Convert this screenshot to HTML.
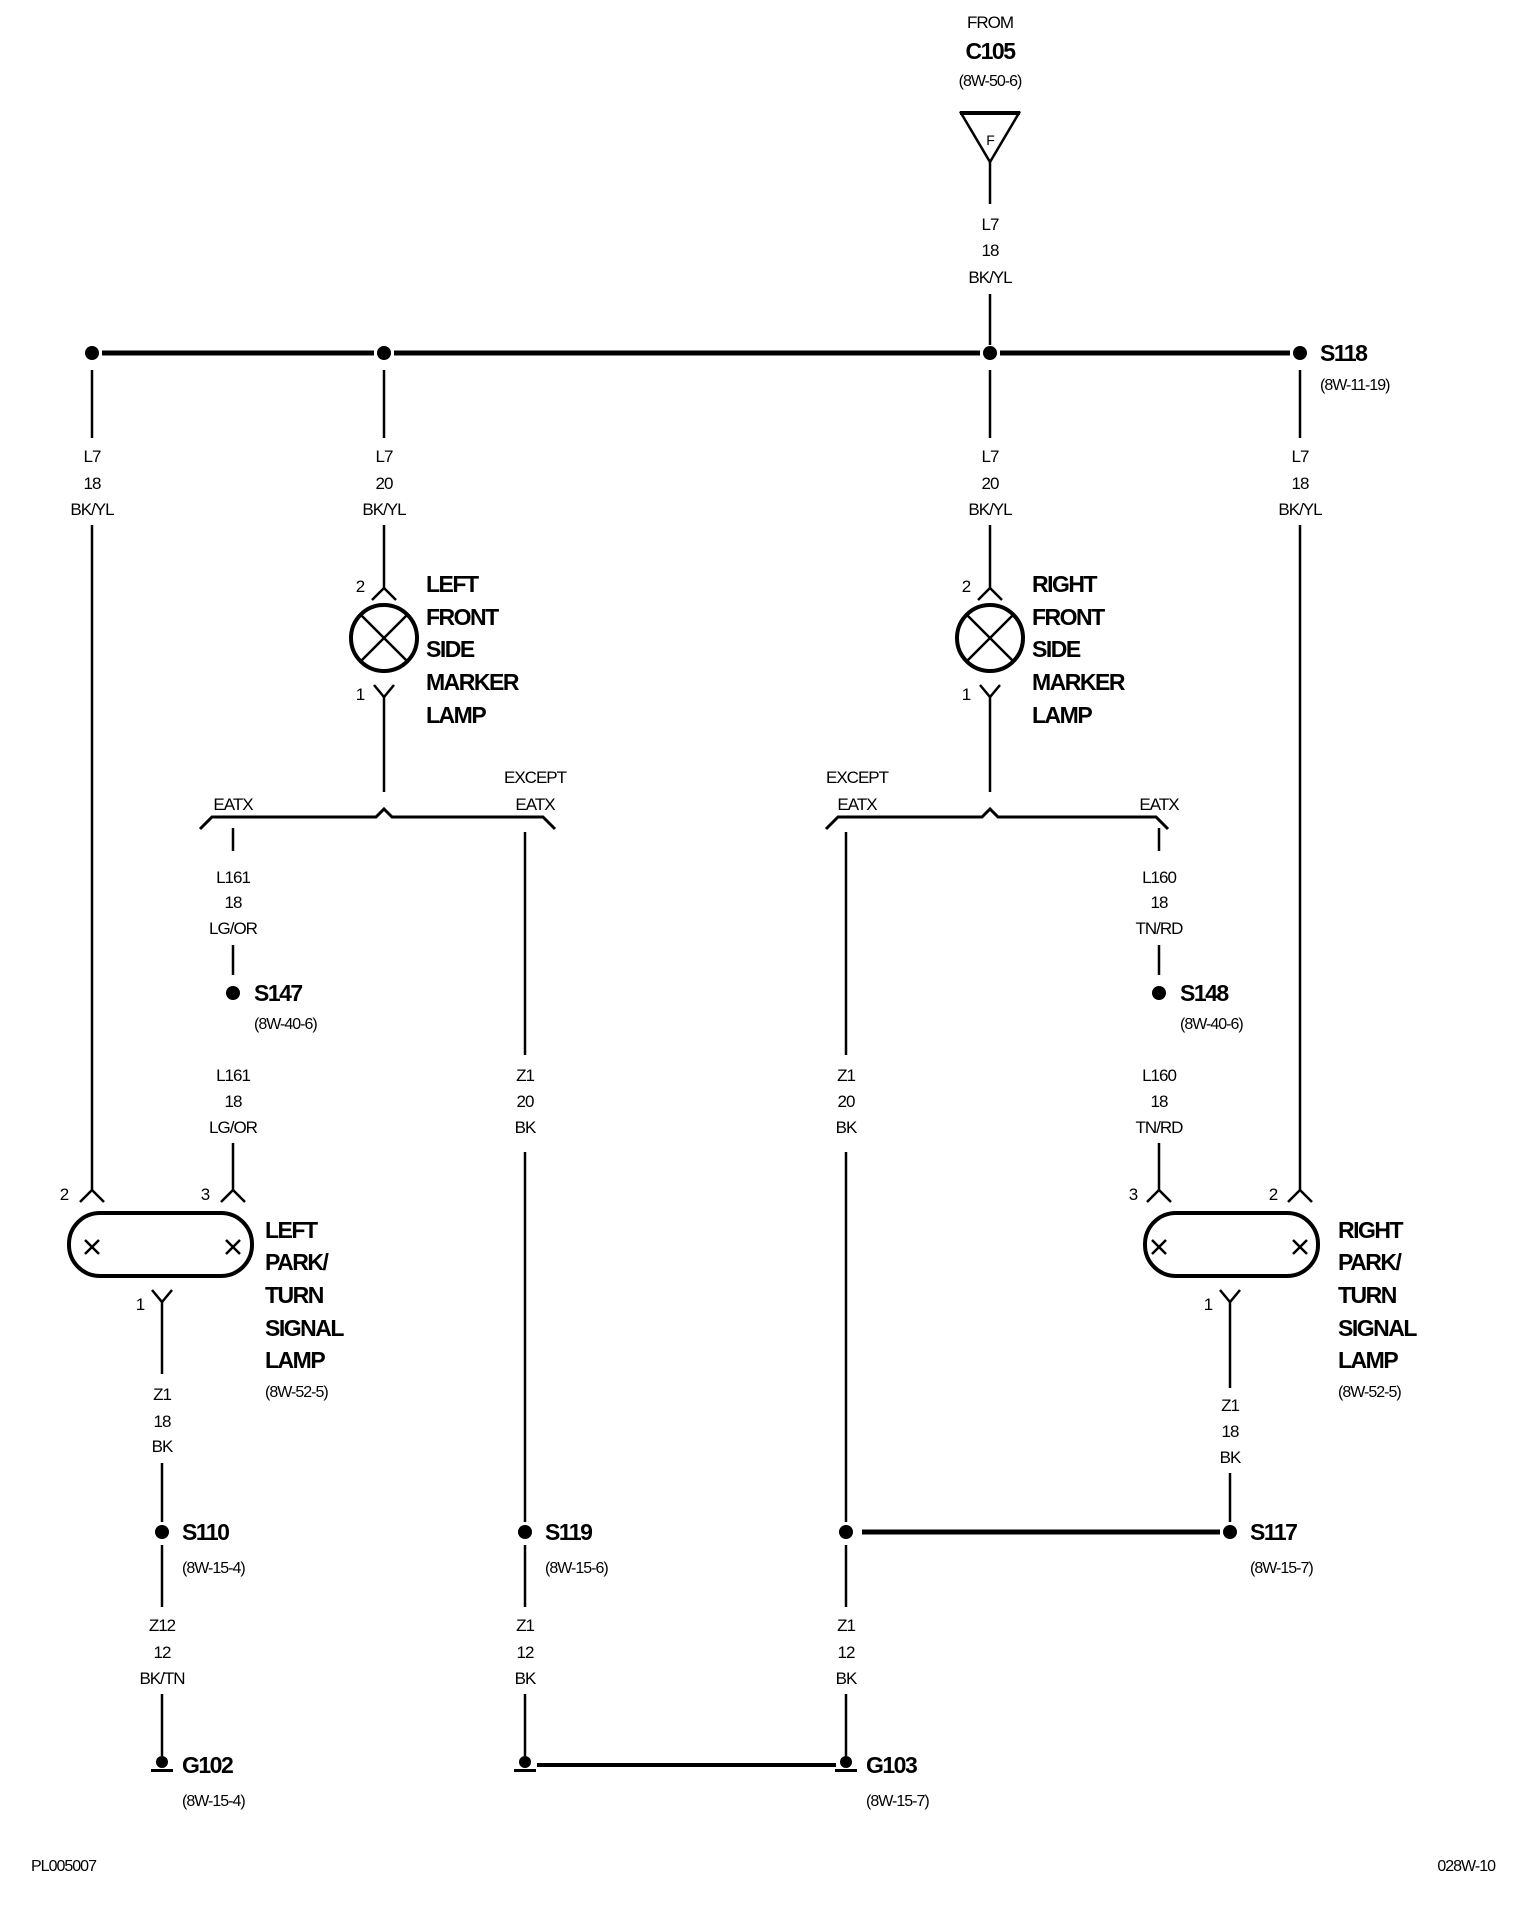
<!DOCTYPE html>
<html><head><meta charset="utf-8"><style>
html,body{margin:0;padding:0;background:#fff}
svg{display:block}
text{font-family:"Liberation Sans",sans-serif;fill:#000}
.w{font-size:17px;text-anchor:middle;letter-spacing:-1px}
.b{font-size:23px;font-weight:bold;letter-spacing:-1.5px}
.r{font-size:16px;letter-spacing:-1px}
</style></head><body>
<svg width="1520" height="1908" viewBox="0 0 1520 1908" xmlns="http://www.w3.org/2000/svg">
<g stroke="#000" fill="none" stroke-width="2.5">
<!-- top -->
<polygon points="961,113 1019,113 990,162"/>
<line x1="960" y1="113" x2="1020" y2="113" stroke-width="4"/>
<line x1="990" y1="162" x2="990" y2="204"/><line x1="990" y1="294" x2="990" y2="345"/>
<!-- bus -->
<g stroke-width="5"><line x1="102" y1="353" x2="374" y2="353"/><line x1="394" y1="353" x2="980" y2="353"/><line x1="1000" y1="353" x2="1290" y2="353"/></g>
<!-- branches -->
<line x1="92" y1="370" x2="92" y2="438"/><line x1="384" y1="370" x2="384" y2="438"/><line x1="990" y1="370" x2="990" y2="438"/><line x1="1300" y1="370" x2="1300" y2="438"/>
<line x1="92" y1="525" x2="92" y2="1190"/><line x1="1300" y1="525" x2="1300" y2="1190"/>
<line x1="384" y1="525" x2="384" y2="588"/><line x1="990" y1="525" x2="990" y2="588"/>
<!-- marker lamps -->
<path d="M372,600 L384,588 L396,600"/><path d="M978,600 L990,588 L1002,600"/>
<circle cx="384" cy="638" r="33" stroke-width="4"/><circle cx="990" cy="638" r="33" stroke-width="4"/>
<path d="M361,615 L407,661 M407,615 L361,661"/><path d="M967,615 L1013,661 M1013,615 L967,661"/>
<path d="M374,685 L384,697 L394,685 M384,697 L384,792"/>
<path d="M980,685 L990,697 L1000,685 M990,697 L990,792"/>
<!-- EATX splits -->
<path d="M200,829 L212,817 L376,817 L384,809 L392,817 L543,817 L555,829" stroke-width="3"/>
<path d="M826,829 L838,817 L982,817 L990,809 L998,817 L1156,817 L1168,829" stroke-width="3"/>
<line x1="233" y1="828" x2="233" y2="851"/><line x1="233" y1="945" x2="233" y2="975"/><line x1="233" y1="1143" x2="233" y2="1190"/>
<line x1="1159" y1="828" x2="1159" y2="851"/><line x1="1159" y1="945" x2="1159" y2="975"/><line x1="1159" y1="1143" x2="1159" y2="1190"/>
<line x1="525" y1="832" x2="525" y2="1055"/><line x1="525" y1="1152" x2="525" y2="1522"/>
<line x1="846" y1="832" x2="846" y2="1055"/><line x1="846" y1="1152" x2="846" y2="1522"/>
<!-- park lamps -->
<path d="M80,1202 L92,1190 L104,1202"/><path d="M221,1202 L233,1190 L245,1202"/>
<path d="M1147,1202 L1159,1190 L1171,1202"/><path d="M1288,1202 L1300,1190 L1312,1202"/>
<rect x="69" y="1213" width="183" height="63" rx="31" stroke-width="4"/>
<rect x="1145" y="1213" width="173" height="63" rx="31" stroke-width="4"/>
<path d="M85,1240 L99,1254 M99,1240 L85,1254 M226,1240 L240,1254 M240,1240 L226,1254"/>
<path d="M1152,1240 L1166,1254 M1166,1240 L1152,1254 M1293,1240 L1307,1254 M1307,1240 L1293,1254"/>
<path d="M152,1290 L162,1302 L172,1290 M162,1302 L162,1374"/>
<path d="M1220,1290 L1230,1302 L1240,1290 M1230,1302 L1230,1388"/>
<line x1="162" y1="1463" x2="162" y2="1522"/><line x1="1230" y1="1473" x2="1230" y2="1522"/>
<line x1="862" y1="1532" x2="1220" y2="1532" stroke-width="5"/>
<line x1="162" y1="1545" x2="162" y2="1607"/><line x1="525" y1="1545" x2="525" y2="1607"/><line x1="846" y1="1545" x2="846" y2="1607"/>
<line x1="162" y1="1694" x2="162" y2="1756"/><line x1="525" y1="1694" x2="525" y2="1756"/><line x1="846" y1="1694" x2="846" y2="1756"/>
<line x1="537" y1="1765" x2="836" y2="1765" stroke-width="4"/>
</g>
<g fill="#000">
<circle cx="92" cy="353" r="7"/><circle cx="384" cy="353" r="7"/><circle cx="990" cy="353" r="7"/><circle cx="1300" cy="353" r="7"/>
<circle cx="233" cy="993" r="7"/><circle cx="1159" cy="993" r="7"/>
<circle cx="162" cy="1532" r="7"/><circle cx="525" cy="1532" r="7"/><circle cx="846" cy="1532" r="7"/><circle cx="1230" cy="1532" r="7"/>
<circle cx="162" cy="1762" r="6"/><rect x="151" y="1769" width="22" height="3"/>
<circle cx="525" cy="1762" r="6"/><rect x="514" y="1769" width="22" height="3"/>
<circle cx="846" cy="1762" r="6"/><rect x="835" y="1769" width="22" height="3"/>
</g>
<!-- text -->
<text class="w" x="990" y="28">FROM</text>
<text class="b" x="990" y="59" text-anchor="middle">C105</text>
<text class="w" x="990" y="86" style="font-size:16px">(8W-50-6)</text>
<text class="w" x="990" y="145" style="font-size:14px">F</text>
<g class="w">
<text x="990" y="230">L7</text><text x="990" y="256">18</text><text x="990" y="283">BK/YL</text>
<text x="92" y="462">L7</text><text x="92" y="489">18</text><text x="92" y="515">BK/YL</text>
<text x="384" y="462">L7</text><text x="384" y="489">20</text><text x="384" y="515">BK/YL</text>
<text x="990" y="462">L7</text><text x="990" y="489">20</text><text x="990" y="515">BK/YL</text>
<text x="1300" y="462">L7</text><text x="1300" y="489">18</text><text x="1300" y="515">BK/YL</text>
<text x="233" y="810">EATX</text>
<text x="535" y="783">EXCEPT</text><text x="535" y="810">EATX</text>
<text x="857" y="783">EXCEPT</text><text x="857" y="810">EATX</text>
<text x="1159" y="810">EATX</text>
<text x="233" y="883">L161</text><text x="233" y="908">18</text><text x="233" y="934">LG/OR</text>
<text x="233" y="1081">L161</text><text x="233" y="1107">18</text><text x="233" y="1133">LG/OR</text>
<text x="1159" y="883">L160</text><text x="1159" y="908">18</text><text x="1159" y="934">TN/RD</text>
<text x="1159" y="1081">L160</text><text x="1159" y="1107">18</text><text x="1159" y="1133">TN/RD</text>
<text x="525" y="1081">Z1</text><text x="525" y="1107">20</text><text x="525" y="1133">BK</text>
<text x="846" y="1081">Z1</text><text x="846" y="1107">20</text><text x="846" y="1133">BK</text>
<text x="162" y="1400">Z1</text><text x="162" y="1427">18</text><text x="162" y="1452">BK</text>
<text x="1230" y="1411">Z1</text><text x="1230" y="1437">18</text><text x="1230" y="1463">BK</text>
<text x="162" y="1631">Z12</text><text x="162" y="1658">12</text><text x="162" y="1684">BK/TN</text>
<text x="525" y="1631">Z1</text><text x="525" y="1658">12</text><text x="525" y="1684">BK</text>
<text x="846" y="1631">Z1</text><text x="846" y="1658">12</text><text x="846" y="1684">BK</text>
<text x="360" y="592">2</text><text x="360" y="700">1</text>
<text x="966" y="592">2</text><text x="966" y="700">1</text>
<text x="64" y="1200">2</text><text x="205" y="1200">3</text>
<text x="1133" y="1200">3</text><text x="1273" y="1200">2</text>
<text x="140" y="1310">1</text><text x="1208" y="1310">1</text>
</g>
<g class="b">
<text x="1320" y="361">S118</text>
<text x="426" y="592">LEFT</text><text x="426" y="625">FRONT</text><text x="426" y="657">SIDE</text><text x="426" y="690">MARKER</text><text x="426" y="723">LAMP</text>
<text x="1032" y="592">RIGHT</text><text x="1032" y="625">FRONT</text><text x="1032" y="657">SIDE</text><text x="1032" y="690">MARKER</text><text x="1032" y="723">LAMP</text>
<text x="254" y="1001">S147</text><text x="1180" y="1001">S148</text>
<text x="265" y="1238">LEFT</text><text x="265" y="1270">PARK/</text><text x="265" y="1303">TURN</text><text x="265" y="1336">SIGNAL</text><text x="265" y="1368">LAMP</text>
<text x="1338" y="1238">RIGHT</text><text x="1338" y="1270">PARK/</text><text x="1338" y="1303">TURN</text><text x="1338" y="1336">SIGNAL</text><text x="1338" y="1368">LAMP</text>
<text x="182" y="1540">S110</text><text x="545" y="1540">S119</text><text x="1250" y="1540">S117</text>
<text x="182" y="1773">G102</text><text x="866" y="1773">G103</text>
</g>
<g class="r">
<text x="1320" y="390">(8W-11-19)</text>
<text x="254" y="1029">(8W-40-6)</text><text x="1180" y="1029">(8W-40-6)</text>
<text x="265" y="1397">(8W-52-5)</text><text x="1338" y="1397">(8W-52-5)</text>
<text x="182" y="1573">(8W-15-4)</text><text x="545" y="1573">(8W-15-6)</text><text x="1250" y="1573">(8W-15-7)</text>
<text x="182" y="1806">(8W-15-4)</text><text x="866" y="1806">(8W-15-7)</text>
<text x="31" y="1871">PL005007</text>
<text x="1495" y="1871" text-anchor="end">028W-10</text>
</g>
</svg>
</body></html>
